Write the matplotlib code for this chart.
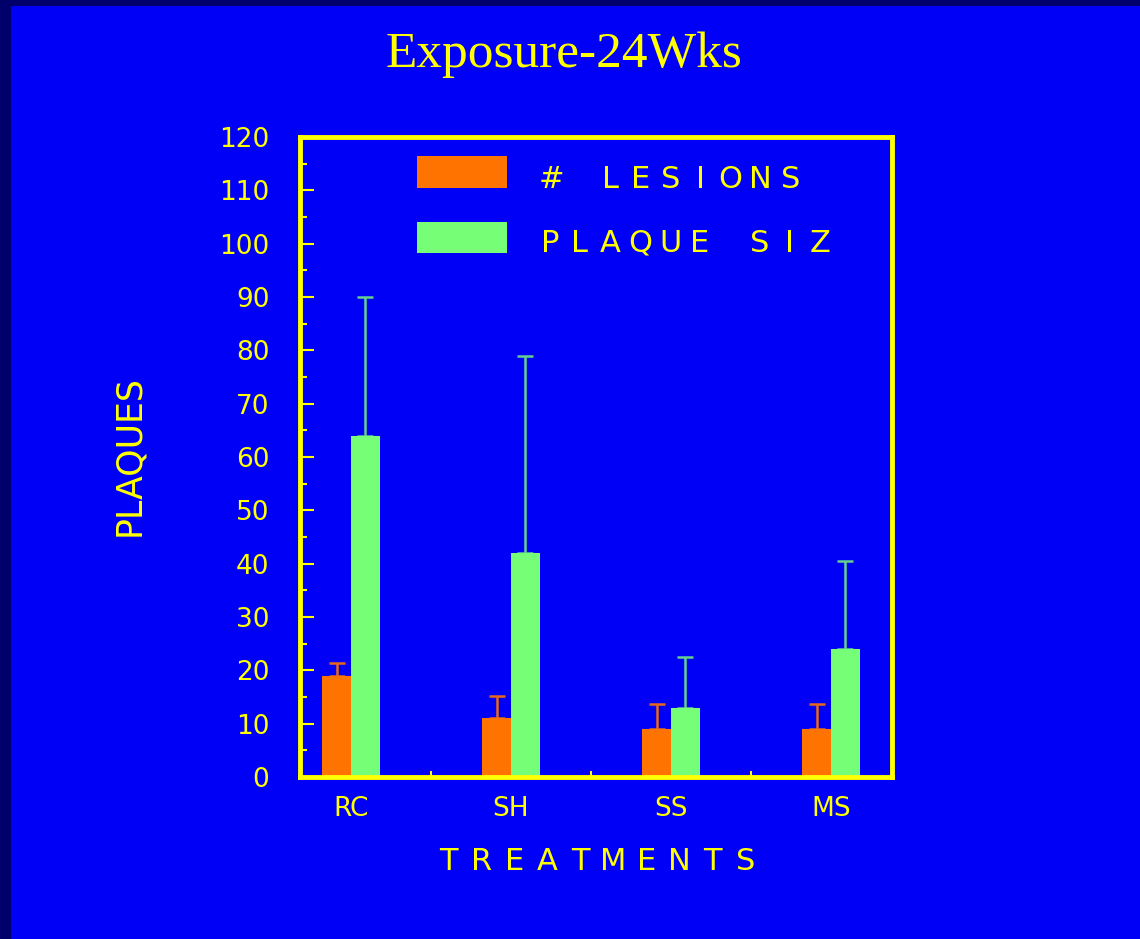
import numpy as np
import matplotlib
matplotlib.use("Agg")
import matplotlib.pyplot as plt
from matplotlib.patches import Rectangle

# figure geometry (pixels at dpi 100)
W, H = 1140, 939
DPI = 100

BLUE = '#0000F6'
NAVY = '#00006A'
YELLOW = '#FFFF00'
ORANGE = '#FF7400'
ORANGE_ERR = '#E8681A'
GREEN = '#76FF76'
GREEN_ERR = '#62D092'

# data
treatments = ['RC', 'SH', 'SS', 'MS']
series_names = ['# LESIONS', 'PLAQUE SIZ']
lesions = [19, 11, 9, 9]
lesions_err = [2.4, 4.2, 4.6, 4.6]
plaque_size = [64, 42, 13, 24]
plaque_size_err = [26, 37, 9.5, 16.5]
y_ticks = list(range(0, 121, 10))


def tracked_text(fig, s, x_first, y_base, pitch, size, **kw):
    """Draw a string with wide fixed letter pitch (pixel coords, y from top)."""
    for i, ch in enumerate(s):
        if ch == ' ':
            continue
        fig.text((x_first + i * pitch) / W, 1 - y_base / H, ch,
                 ha='center', va='baseline', fontsize=size, **kw)


fig = plt.figure(figsize=(W / DPI, H / DPI), dpi=DPI, facecolor=NAVY)
# blue slide area with a thin dark frame on the top and left edges
fig.add_artist(Rectangle((11 / W, 0), 1, 1 - 6 / H, transform=fig.transFigure,
                         facecolor=BLUE, edgecolor='none', zorder=0))

ax = fig.add_axes([300 / W, 1 - 777 / H, 592 / W, 640 / H])
ax.set_facecolor(BLUE)

x = np.arange(len(treatments))
w = 0.18
ax.bar(x - w / 2, lesions, width=w, color=ORANGE, linewidth=0, zorder=2)
ax.bar(x + w / 2, plaque_size, width=w, color=GREEN, linewidth=0, zorder=2)
ax.errorbar(x - w / 2, lesions, yerr=[np.zeros(len(x)), lesions_err], fmt='none',
            ecolor=ORANGE_ERR, elinewidth=1.8, capsize=5.5, capthick=1.8, zorder=1)
ax.errorbar(x + w / 2, plaque_size, yerr=[np.zeros(len(x)), plaque_size_err], fmt='none',
            ecolor=GREEN_ERR, elinewidth=1.8, capsize=5.5, capthick=1.8, zorder=1)

ax.set_xlim(-0.319, 3.381)
ax.set_ylim(0, 120)

for sp in ax.spines.values():
    sp.set_color(YELLOW)
    sp.set_linewidth(3.5)
    sp.set_zorder(3)

ax.set_yticks(y_ticks)
ax.set_yticks(np.arange(5, 120, 10), minor=True)
ax.set_xticks(x)
ax.set_xticklabels(treatments)
ax.set_xticks(x[:-1] + 0.5, minor=True)

ax.tick_params(axis='y', which='major', direction='in', length=10, width=1.5,
               color=YELLOW, labelcolor=YELLOW, labelsize=19, pad=22)
ax.tick_params(axis='y', which='minor', direction='in', length=5, width=1.5, color=YELLOW)
ax.tick_params(axis='x', which='major', direction='in', length=0,
               labelcolor=YELLOW, labelsize=19, pad=14)
ax.tick_params(axis='x', which='minor', direction='in', length=4.5, width=1.5, color=YELLOW)

ax.set_ylabel('PLAQUES', color=YELLOW, fontsize=25)
ax.yaxis.set_label_coords(-0.289, 0.502)
ax.yaxis.label.set_va('center')

# legend boxes
ax.add_patch(Rectangle((117 / 592, (777 - 188) / 640), 90 / 592, 32 / 640,
                       transform=ax.transAxes, facecolor=ORANGE, edgecolor='none'))
ax.add_patch(Rectangle((117 / 592, (777 - 253) / 640), 90 / 592, 31 / 640,
                       transform=ax.transAxes, facecolor=GREEN, edgecolor='none'))
tracked_text(fig, series_names[0], 551, 188, 29.9, 22, color=YELLOW)
tracked_text(fig, series_names[1], 550, 252, 30, 22, color=YELLOW)

# x axis label
tracked_text(fig, 'TREATMENTS', 448.5, 870, 33, 22, color=YELLOW)

fig.text(564 / W, 1 - 67 / H, 'Exposure-24Wks', ha='center', va='baseline',
         fontsize=37, family='Liberation Serif', color=YELLOW)

fig.savefig('out.png', dpi=DPI, facecolor=fig.get_facecolor())
